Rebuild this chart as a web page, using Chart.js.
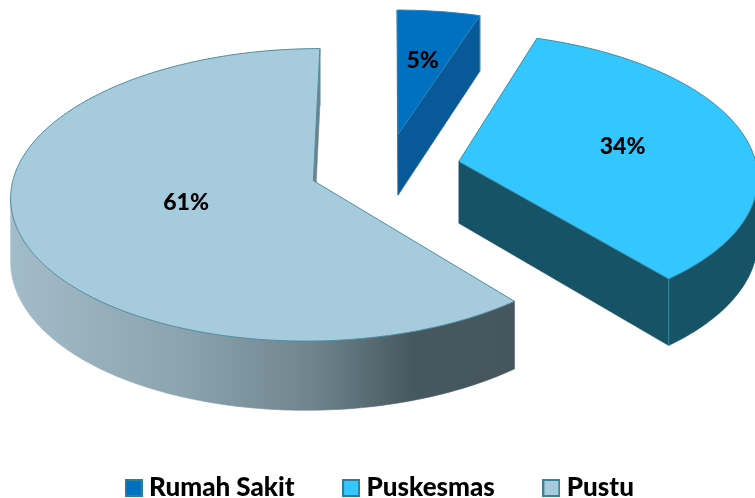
<!DOCTYPE html>
<html lang="id">
  <head>
    <meta charset="UTF-8" />
    <title>Rumah Sakit, Puskesmas, Pustu</title>
    <script src="https://cdn.jsdelivr.net/npm/chart.js"></script>
    <style>
      html, body { margin: 0; padding: 0; background: #fff; }
      .chart-container { width: 755px; height: 498px; overflow: hidden; }
    </style>
  </head>
  <body>
    <div class="chart-container">
      <canvas id="pieChart"></canvas>
    </div>

    <script>
      const categories = ["Rumah Sakit", "Puskesmas", "Pustu"];
      const values = [5, 34, 61];
      const valueLabels = ["5%", "34%", "61%"];
      const topColors = ["#0070c0", "#33c6ff", "#a6cbdc"];
      const edgeColors = ["#2f7fb5", "#3d8ba5", "#4f8c9f"];
      const wallColors = ["#075a97", "#175366", null];
      const boxBorders = ["#2a7f9e", "#2a7f9e", "#3a8296"];
      const labelRadius = [0.58, 0.57, 0.44];
      const explode = [44, 44.5, 47];

      // camera for the tilted pie: every slice goes through the same perspective
      const view = { vx: 387, cy: 168, R: 298, k: 0.478, a: 0.096, h: 62 };

      function project(X, Z, drop) {
        const s = 1 / (1 + view.a * Z);
        return [
          view.vx + view.R * X * s,
          view.cy - view.R * view.k * Z * s + view.h * s * drop,
        ];
      }

      // slice outline in pie units, from the arc the library laid out
      function slicePoints(arc) {
        const d = arc.options.offset / arc.outerRadius;
        const mid = (arc.startAngle + arc.endAngle) / 2;
        const ox = Math.cos(mid) * d;
        const oz = -Math.sin(mid) * d;
        const pts = [[ox, oz]];
        const steps = Math.ceil((arc.endAngle - arc.startAngle) / 0.02);
        for (let i = 0; i <= steps; i++) {
          const t = arc.startAngle + ((arc.endAngle - arc.startAngle) * i) / steps;
          pts.push([ox + Math.cos(t), oz - Math.sin(t)]);
        }
        pts.push([ox, oz]);
        return pts;
      }

      function fillWall(ctx, run) {
        if (run.length < 2) return;
        ctx.beginPath();
        run.forEach((p, j) => {
          const q = project(p[0], p[1], 0);
          if (j === 0) ctx.moveTo(q[0], q[1]);
          else ctx.lineTo(q[0], q[1]);
        });
        run.slice().reverse().forEach((p) => {
          const q = project(p[0], p[1], 1);
          ctx.lineTo(q[0], q[1]);
        });
        ctx.closePath();
        ctx.fill();
        ctx.stroke();
      }

      function drawSlice(ctx, arc, i) {
        const pts = slicePoints(arc);
        let fill = wallColors[i];
        if (!fill) {
          fill = ctx.createLinearGradient(10, 0, 513, 0);
          fill.addColorStop(0, "#a3bcc9");
          fill.addColorStop(0.35, "#8aa3ae");
          fill.addColorStop(0.6, "#6f858e");
          fill.addColorStop(0.8, "#46585f");
          fill.addColorStop(1, "#45565e");
        }
        ctx.fillStyle = fill;
        ctx.strokeStyle = fill;
        ctx.lineWidth = 0.6;
        // walls facing the camera, one run at a time
        let run = [];
        for (let j = 0; j < pts.length - 1; j++) {
          const a = project(pts[j][0], pts[j][1], 0);
          const b = project(pts[j + 1][0], pts[j + 1][1], 0);
          if (b[0] < a[0]) {
            if (!run.length) run.push(pts[j]);
            run.push(pts[j + 1]);
          } else {
            fillWall(ctx, run);
            run = [];
          }
        }
        fillWall(ctx, run);

        // seam where the outer wall meets the cut face
        const corner = pts[pts.length - 2];
        const p0 = project(corner[0], corner[1], 0);
        const p1 = project(corner[0], corner[1], 1);
        ctx.beginPath();
        ctx.moveTo(p0[0], p0[1]);
        ctx.lineTo(p1[0], p1[1]);
        ctx.strokeStyle = edgeColors[i];
        ctx.lineWidth = 1;
        ctx.stroke();

        ctx.beginPath();
        pts.forEach((p, j) => {
          const q = project(p[0], p[1], 0);
          if (j === 0) ctx.moveTo(q[0], q[1]);
          else ctx.lineTo(q[0], q[1]);
        });
        ctx.closePath();
        ctx.fillStyle = topColors[i];
        ctx.fill();
        ctx.strokeStyle = edgeColors[i];
        ctx.lineWidth = 1;
        ctx.stroke();
      }

      function drawValueLabel(ctx, arc, i) {
        const d = arc.options.offset / arc.outerRadius;
        const mid = (arc.startAngle + arc.endAngle) / 2;
        const r = d + labelRadius[i];
        const q = project(Math.cos(mid) * r, -Math.sin(mid) * r, 0);
        ctx.fillStyle = "#000";
        ctx.font = "900 23px Lato";
        ctx.textAlign = "center";
        ctx.textBaseline = "middle";
        ctx.fillText(valueLabels[i], q[0], q[1]);
      }

      const tiltedPie = {
        id: "tiltedPie",
        afterLayout(chart) {
          // legend sits right on the bottom edge
          chart.legend.top += 13;
          chart.legend.bottom += 13;
          chart.legend.left += 5;
          chart.legend.right += 5;
        },
        beforeDatasetDraw(chart) {
          const ctx = chart.ctx;
          const arcs = chart.getDatasetMeta(0).data;
          ctx.save();
          arcs.forEach((arc, i) => drawSlice(ctx, arc, i));
          arcs.forEach((arc, i) => drawValueLabel(ctx, arc, i));
          ctx.restore();
          return false;
        },
      };

      function legendBox(color, border) {
        const c = document.createElement("canvas");
        c.width = 18;
        c.height = 18;
        const g = c.getContext("2d");
        g.fillStyle = border;
        g.fillRect(0, 0, 18, 18);
        g.fillStyle = color;
        g.fillRect(2, 2, 14, 14);
        return c;
      }

      new Chart(document.getElementById("pieChart"), {
        type: "pie",
        data: {
          labels: categories,
          datasets: [
            {
              data: values,
              backgroundColor: topColors,
              offset: explode,
              borderWidth: 0,
            },
          ],
        },
        options: {
          responsive: true,
          maintainAspectRatio: false,
          animation: false,
          plugins: {
            tooltip: { enabled: false },
            legend: {
              position: "bottom",
              labels: {
                color: "#000",
                font: { family: "Lato", size: 26, weight: "900" },
                usePointStyle: true,
                boxWidth: 5,
                padding: 54,
                generateLabels(chart) {
                  return categories.map((name, i) => ({
                    text: name,
                    fillStyle: topColors[i],
                    strokeStyle: boxBorders[i],
                    fontColor: "#000",
                    lineWidth: 0,
                    pointStyle: legendBox(topColors[i], boxBorders[i]),
                    index: i,
                  }));
                },
              },
            },
          },
        },
        plugins: [tiltedPie],
      });
    </script>
  </body>
</html>
